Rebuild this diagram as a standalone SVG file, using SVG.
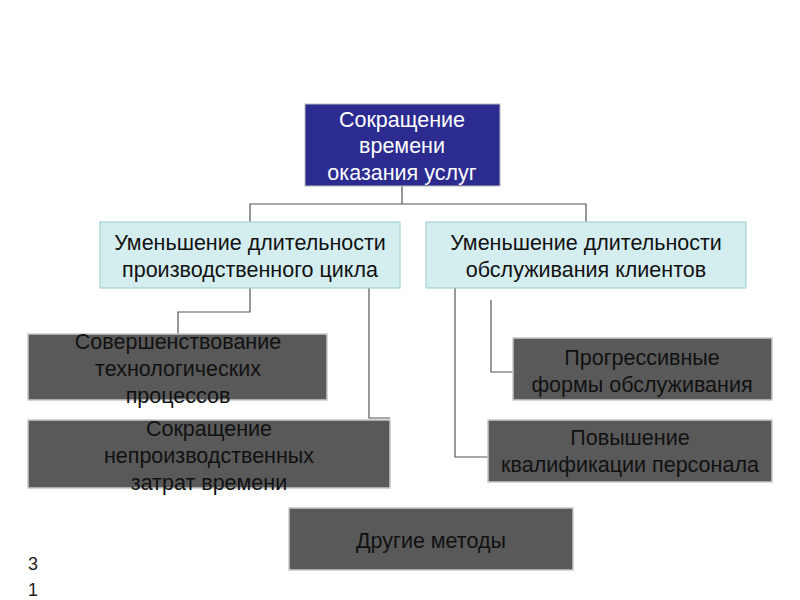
<svg xmlns="http://www.w3.org/2000/svg" width="800" height="600" viewBox="0 0 800 600">
<style>
text{font-family:"Liberation Sans",Arial,sans-serif;font-size:21.5px;text-anchor:middle}
.d rect{fill:#595959;stroke:#c8c8c8;stroke-width:1.5}
.d text{fill:#111}
.m rect{fill:#d4edef;stroke:#9cc;stroke-width:1}
.m text{fill:#111}
#conn path{fill:none;stroke:#555;stroke-width:1.2}
</style>
<rect width="800" height="600" fill="#fff"/>
<g id="conn">
<path d="M402,186V204M250,222V204H586V222"/>
<path d="M250,288V312H178V334"/>
<path d="M369,288V418H390"/>
<path d="M491,300V372H513"/>
<path d="M455,288V457H488"/>
</g>
<g id="top"><rect x="305" y="104" width="195" height="82" fill="#2b2b90" stroke="#bbb"/>
<text x="402" y="127" fill="#fff">Сокращение</text><text x="402" y="153" fill="#fff">времени</text><text x="402" y="180" fill="#fff">оказания услуг</text></g>
<g id="m1" class="m"><rect x="100" y="222" width="300" height="66"/><text x="250" y="250">Уменьшение длительности</text><text x="250" y="277">производственного цикла</text></g>
<g id="m2" class="m"><rect x="426" y="222" width="320" height="66"/><text x="586" y="250">Уменьшение длительности</text><text x="586" y="277">обслуживания клиентов</text></g>
<g id="d1" class="d"><rect x="28" y="334" width="299" height="66"/><text x="178" y="349">Совершенствование</text><text x="178" y="376">технологических</text><text x="178" y="403">процессов</text></g>
<g id="d2" class="d"><rect x="28" y="420" width="362" height="68"/><text x="209" y="436">Сокращение</text><text x="209" y="463">непроизводственных</text><text x="209" y="490">затрат времени</text></g>
<g id="d3" class="d"><rect x="513" y="338" width="259" height="62"/><text x="642" y="365">Прогрессивные</text><text x="642" y="392">формы обслуживания</text></g>
<g id="d4" class="d"><rect x="488" y="420" width="284" height="62"/><text x="630" y="445">Повышение</text><text x="630" y="472">квалификации персонала</text></g>
<g id="d5" class="d"><rect x="289" y="508" width="284" height="62"/><text x="431" y="548">Другие методы</text></g>
<text x="33" y="570" fill="#222" style="font-size:18px">3</text><text x="33" y="596" fill="#222" style="font-size:18px">1</text>
</svg>
